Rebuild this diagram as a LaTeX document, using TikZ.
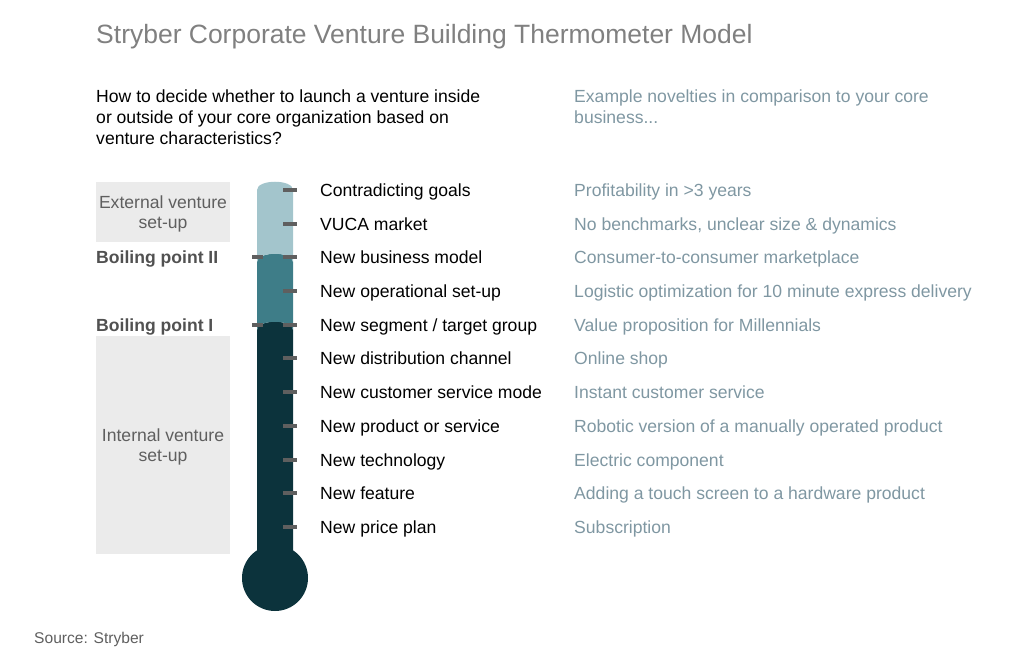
\documentclass[tikz,border=0pt]{standalone}
\usepackage{fontspec}
\setmainfont{Liberation Sans}
\usetikzlibrary{positioning}
\definecolor{tlight}{HTML}{A3C5CC}
\definecolor{tmid}{HTML}{3E7D88}
\definecolor{tdark}{HTML}{0C333C}
\definecolor{exgray}{HTML}{7F97A2}
\definecolor{boxgray}{HTML}{EBEBEB}
\definecolor{ticks}{HTML}{5F5F5F}
\tikzset{
    txt/.style={anchor=west, inner sep=0pt, text height=10.6pt, text depth=2.8pt, font=\fontsize{15}{18}\selectfont},
    level/.style={txt, text=black},
    example/.style={txt, text=exgray},
    boil/.style={txt, font=\fontsize{15}{18}\selectfont\bfseries, text=ticks!85!black},
    tick/.style={draw=ticks, line width=3pt},
}
\begin{document}
\begin{tikzpicture}[x=0.03cm, y=-0.03cm]
    \useasboundingbox (0,0) rectangle (1024,653);

    \node[txt, font=\fontsize{22.6}{26}\selectfont, text=gray, text height=16pt, text depth=4pt] (title) at (96,36) {Stryber Corporate Venture Building Thermometer Model};
    \node[txt, align=left, anchor=north west, text height=, text depth=, font=\fontsize{15}{17.8}\selectfont] (question) at (96,90) {How to decide whether to launch a venture inside\\or outside of your core organization based on\\venture characteristics?};
    \node[example, align=left, anchor=north west, text height=, text depth=, font=\fontsize{15}{17.8}\selectfont] (novel) at (574,90) {Example novelties in comparison to your core\\business...};

    % side boxes
    \fill[boxgray] (96,182) rectangle (230,242);
    \fill[boxgray] (96,336) rectangle (230,554);
    \node[txt, anchor=center, align=center, text height=, text depth=, text=ticks, font=\fontsize{15}{17.5}\selectfont] (ext) at (163,214) {External venture\\set-up};
    \node[txt, anchor=center, align=center, text height=, text depth=, text=ticks, font=\fontsize{15}{17.5}\selectfont] (int) at (163,447) {Internal venture\\set-up};
    \node[boil] (bp2) at (96,259) {Boiling point II};
    \node[boil] (bp1) at (96,327) {Boiling point I};

    % thermometer
    \fill[tdark] (275,578) circle (33);
    \fill[tdark] (257,560) -- (257,330) .. controls (257,319) and (293,319) .. (293,330) -- (293,560) -- cycle;
    \fill[tmid] (257,330) .. controls (257,319) and (293,319) .. (293,330) -- (293,262) .. controls (293,251) and (257,251) .. (257,262) -- cycle;
    \fill[tlight] (257,262) .. controls (257,251) and (293,251) .. (293,262) -- (293,190) .. controls (293,179) and (257,179) .. (257,190) -- cycle;

    \foreach \y/\lvl/\ex [count=\i] in {
        190/{Contradicting goals}/{Profitability in >3 years},
        224/{VUCA market}/{No benchmarks, unclear size \& dynamics},
        257/{New business model}/{Consumer-to-consumer marketplace},
        291/{New operational set-up}/{Logistic optimization for 10 minute express delivery},
        325/{New segment / target group}/{Value proposition for Millennials},
        358/{New distribution channel}/{Online shop},
        392/{New customer service mode}/{Instant customer service},
        426/{New product or service}/{Robotic version of a manually operated product},
        460/{New technology}/{Electric component},
        493/{New feature}/{Adding a touch screen to a hardware product},
        527/{New price plan}/{Subscription}} {
        \draw[tick] (283,\y) -- (297,\y);
        \node[level] (l\i) at (320,\y+2) {\lvl};
        \node[example] (e\i) at (574,\y+2) {\ex};
    }
    \draw[tick] (252,257) -- (263,257);
    \draw[tick] (252,325) -- (263,325);

    \node[txt, font=\fontsize{13.3}{16}\selectfont, text=ticks] (src) at (34,639) {Source: Stryber};
\end{tikzpicture}
\end{document}
